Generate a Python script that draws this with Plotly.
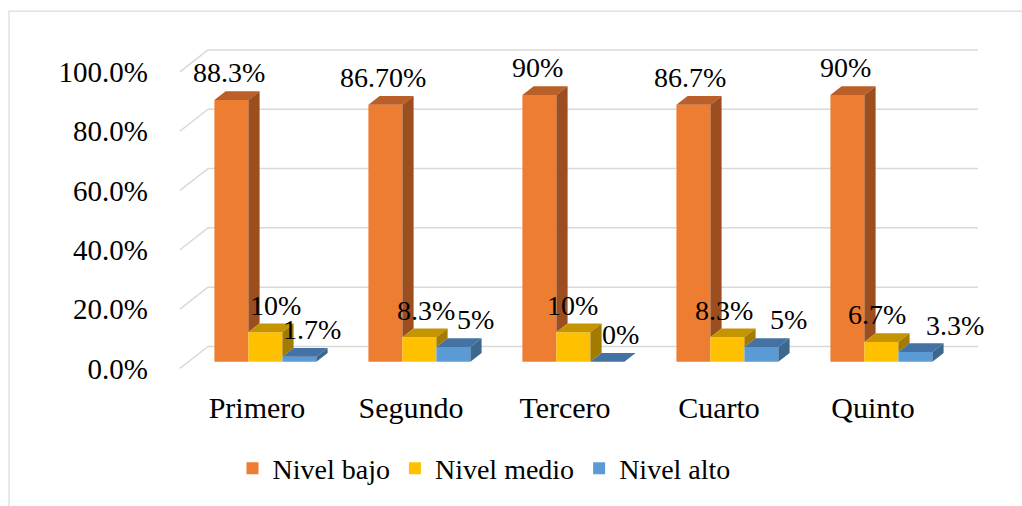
import plotly.graph_objects as go

# ---------------- data ----------------
categories = ["Primero", "Segundo", "Tercero", "Cuarto", "Quinto"]
series_names = ["Nivel bajo", "Nivel medio", "Nivel alto"]
nivel_bajo = [88.3, 86.7, 90.0, 86.7, 90.0]
nivel_medio = [10.0, 8.3, 10.0, 8.3, 6.7]
nivel_alto = [1.7, 5.0, 0.0, 5.0, 3.3]
labels_bajo = ["88.3%", "86.70%", "90%", "86.7%", "90%"]
labels_medio = ["10%", "8.3%", "10%", "8.3%", "6.7%"]
labels_alto = ["1.7%", "5%", "0%", "5%", "3.3%"]
y_tick_values = [0, 20, 40, 60, 80, 100]
y_tick_labels = ["0.0%", "20.0%", "40.0%", "60.0%", "80.0%", "100.0%"]

series_values = [nivel_bajo, nivel_medio, nivel_alto]
series_labels = [labels_bajo, labels_medio, labels_alto]

# ---------------- style / geometry ----------------
W, H = 1022, 506
PL, PR, PT, PB = 153, 985, 40, 380          # plot area in px
PX_PER_U = 154.0                             # px per category slot
FRONT_X0 = 180.0                             # px of front-left corner
PX_PER_PCT = 2.983
FRONT_Y0 = 370.3                             # px of front 0% line

x_range = [(PL - FRONT_X0) / PX_PER_U, (PR - FRONT_X0) / PX_PER_U]
y_range = [(FRONT_Y0 - PB) / PX_PER_PCT, (FRONT_Y0 - PT) / PX_PER_PCT]

DX = 28.0 / PX_PER_U          # wall depth in x units
DY = 22.0 / PX_PER_PCT        # wall depth in y units
F0, F1 = 0.3, 0.7             # bar depth fractions
BW = 34.0 / PX_PER_U          # bar width
SDX, SDY = (F1 - F0) * DX, (F1 - F0) * DY
BASE = F0 * DY

front_colors = ["#ED7D31", "#FFC000", "#5B9BD5"]
top_colors = ["#BA5F27", "#C49500", "#4472A2"]
side_colors = ["#9C4E1F", "#A37B00", "#3C6890"]
grid_color = "#D9D9D9"
FONT = "Liberation Serif, 'Times New Roman', Times, serif"

# label nudges in px (horizontal) per series / category
label_nudge = [[-2, -2, -2, -3, -2],
               [10, 7, -1, -3, -4],
               [13, 22, 13, 27, 40]]
LABEL_LIFT = 27

fig = go.Figure()

n_cat = len(categories)
n_ser = len(series_values)

def bar_center(i, k):
    return i + 0.5 + F0 * DX + (k - (n_ser - 1) / 2.0) * BW

# front faces as bars
for k in range(n_ser):
    fig.add_trace(go.Bar(
        x=[bar_center(i, k) for i in range(n_cat)],
        y=series_values[k],
        base=[BASE] * n_cat,
        width=BW,
        name=series_names[k],
        marker=dict(color=front_colors[k], line=dict(width=0)),
        showlegend=True,
        hoverinfo="skip",
    ))

# top and side faces
for k in range(n_ser):
    tx, ty, sx, sy = [], [], [], []
    for i in range(n_cat):
        v = series_values[k][i]
        xc = bar_center(i, k)
        xl, xr = xc - BW / 2, xc + BW / 2
        top = BASE + v
        tx += [xl, xr, xr + SDX, xl + SDX, xl, None]
        ty += [top, top, top + SDY, top + SDY, top, None]
        lower = BASE
        if k + 1 < n_ser:
            lower = max(BASE, BASE + series_values[k + 1][i])
        if lower < top:
            sx += [xr, xr, xr + SDX, xr + SDX, xr, None]
            sy += [lower, top, top + SDY, lower + SDY, lower, None]
    fig.add_trace(go.Scatter(x=tx, y=ty, mode="lines", fill="toself",
                             fillcolor=top_colors[k], line=dict(width=0),
                             showlegend=False, hoverinfo="skip"))
    if sx:
        fig.add_trace(go.Scatter(x=sx, y=sy, mode="lines", fill="toself",
                                 fillcolor=side_colors[k], line=dict(width=0),
                                 showlegend=False, hoverinfo="skip"))

# gridlines on back and left wall
shapes = []
for t in y_tick_values:
    shapes.append(dict(type="line", xref="x", yref="y", x0=DX, x1=n_cat + DX,
                       y0=t + DY, y1=t + DY, line=dict(color=grid_color, width=1.5),
                       layer="below"))
    shapes.append(dict(type="line", xref="x", yref="y", x0=0, x1=DX,
                       y0=t, y1=t + DY, line=dict(color=grid_color, width=1.5),
                       layer="below"))
# chart-area border
pw, ph = PR - PL, PB - PT
shapes.append(dict(type="rect", xref="paper", yref="paper",
                   x0=(9 - PL) / pw, x1=(1040 - PL) / pw,
                   y0=(PB - 530) / ph, y1=(PB - 11) / ph,
                   line=dict(color=grid_color, width=1.2), layer="below"))

annotations = []
for k in range(n_ser):
    for i in range(n_cat):
        annotations.append(dict(
            x=bar_center(i, k), y=BASE + series_values[k][i], xref="x", yref="y",
            text=series_labels[k][i], showarrow=False,
            xanchor="center", yanchor="middle",
            xshift=label_nudge[k][i], yshift=LABEL_LIFT,
            font=dict(family=FONT, size=28, color="#000000")))

fig.update_layout(
    width=W, height=H,
    margin=dict(l=PL, r=W - PR, t=PT, b=H - PB),
    paper_bgcolor="white", plot_bgcolor="white",
    barmode="overlay",
    shapes=shapes,
    annotations=annotations,
    showlegend=True,
    legend=dict(orientation="h", x=(484 - PL) / pw, xanchor="center",
                y=(PB - 471) / ph, yanchor="middle",
                font=dict(family=FONT, size=28, color="#000000"),
                bgcolor="rgba(0,0,0,0)", itemclick=False),
    xaxis=dict(range=x_range, showgrid=False, zeroline=False, showline=False,
               tickmode="array", tickvals=[i + 0.5 for i in range(n_cat)],
               ticktext=categories, ticks="", ticklabelstandoff=9,
               tickfont=dict(family=FONT, size=30, color="#000000"),
               fixedrange=True, automargin=False),
    yaxis=dict(range=y_range, showgrid=False, zeroline=False, showline=False,
               tickmode="array", tickvals=y_tick_values, ticktext=y_tick_labels,
               ticks="", ticklabelstandoff=4,
               tickfont=dict(family=FONT, size=29, color="#000000"),
               fixedrange=True, automargin=False),
)

fig.write_html("out.html",
               config={"displayModeBar": False, "staticPlot": True},
               post_script="document.body.style.margin='0';document.body.style.padding='0';")
